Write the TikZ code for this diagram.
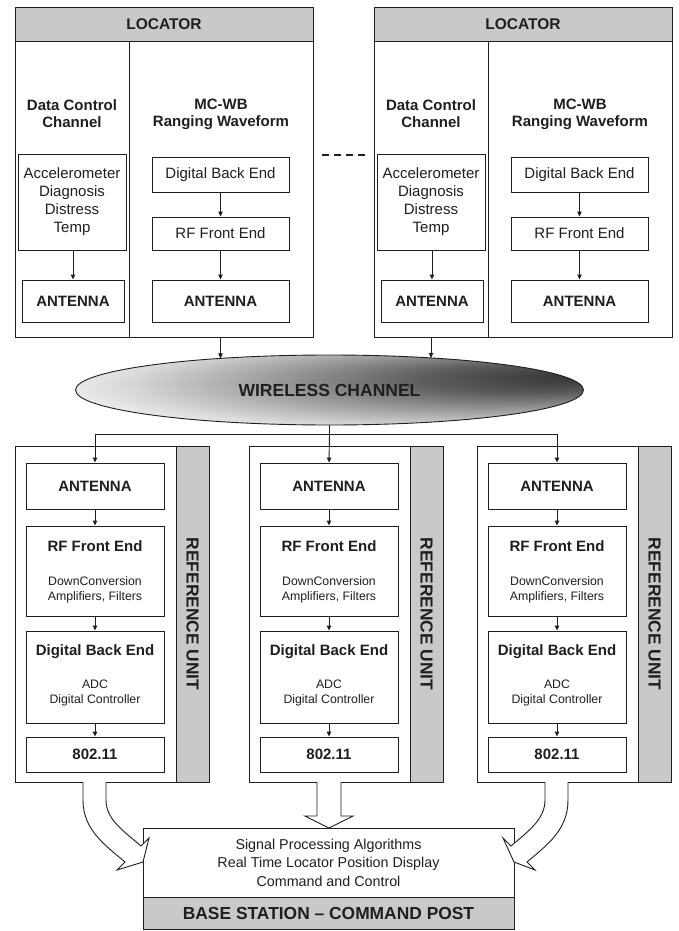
\documentclass[tikz,border=0pt]{standalone}
\usepackage{fontspec}
\setmainfont{Liberation Sans}
\usetikzlibrary{arrows.meta,shapes.geometric}
\pgfdeclareradialshading{wshade}{\pgfpoint{25bp}{10bp}}{color(0bp)=(black!80); color(10bp)=(black!65); color(20bp)=(black!40); color(30bp)=(black!15); color(38bp)=(white); color(50bp)=(white)}
\definecolor{ln}{gray}{0.12}
\definecolor{gf}{gray}{0.79}
\begin{document}
\begin{tikzpicture}[x=1pt,y=-1pt,
  every node/.style={text=ln, inner sep=0pt, align=center},
  box/.style={draw=ln, line width=0.9pt, fill=white},
  gbox/.style={draw=ln, line width=0.9pt, fill=gf},
  arr/.style={draw=ln, line width=0.9pt, -{Triangle[length=5pt,width=4.5pt]}},
  plainline/.style={draw=ln, line width=0.9pt},
  fb/.style={font=\fontsize{15}{17.5}\selectfont\bfseries},
  fr/.style={font=\fontsize{15}{18}\selectfont},
  fs/.style={font=\fontsize{12.3}{15}\selectfont},
  fm/.style={font=\fontsize{14.3}{18.5}\selectfont},
  fbig/.style={font=\fontsize{17.4}{20}\selectfont\bfseries},
  big/.style={draw=ln, line width=0.9pt, fill=white, line join=miter}
]
\useasboundingbox[fill=white] (0,0) rectangle (678,931);

% ---------- Locators ----------
\foreach \i/\d in {1/0,2/359}{
  \node[box, minimum width=298, minimum height=330] (L\i) at (164+\d,172) {};
  \node[gbox, font=\fontsize{15.5}{18}\selectfont\bfseries, minimum width=298, minimum height=34] (LH\i) at (164+\d,24) {LOCATOR};
  \draw[plainline] (129+\d,41) -- (129+\d,337);
  \node[fb] (dcc\i) at (72+\d,113.5) {Data Control\\Channel};
  \node[fb] (mc\i) at (221+\d,114.5) {MC-WB\\Ranging Waveform};
  \node[box, fr, minimum width=108, minimum height=96] (acc\i) at (72+\d,202) {Accelerometer\\Diagnosis\\Distress\\Temp};
  \node[box, fb, minimum width=102, minimum height=42] (anta\i) at (73+\d,301) {ANTENNA};
  \node[box, fr, minimum width=137, minimum height=35] (dbe\i) at (220.5+\d,174.5) {Digital Back End};
  \node[box, fr, minimum width=137, minimum height=33] (rf\i) at (220.5+\d,233.5) {RF Front End};
  \node[box, fb, minimum width=137, minimum height=42] (antb\i) at (220.5+\d,301) {ANTENNA};
  \draw[arr] (anta\i.north |- acc\i.south) -- (anta\i.north);
  \draw[arr] (dbe\i) -- (rf\i);
  \draw[arr] (rf\i) -- (antb\i);
}

% dashes between locators
\draw[draw=ln, line width=2.5pt, dash pattern=on 7pt off 5pt] (322,155) -- (365,155);

% ---------- Wireless channel ----------
\node[ellipse, draw=ln, line width=0.9pt, shade, shading=wshade, minimum width=508, minimum height=70,
      font=\fontsize{17.5}{20}\selectfont\bfseries] (W) at (329.5,390) {WIRELESS CHANNEL};
\coordinate (w1) at (220.5,358.4);
\coordinate (w2) at (431,357.9);
\draw[arr] (antb1.south |- L1.south) -- (w1);
\draw[arr] (acc2.south |- L2.south) -- (w2);

% ---------- Reference units ----------
\foreach \i/\x in {1/15,2/249,3/477}{
  \node[box, minimum width=194, minimum height=336] (U\i) at (\x+97,614) {};
  \node[gbox, minimum width=33, minimum height=336] (US\i) at (\x+177.5,614) {};
  \node[fbig, rotate=-90] (UT\i) at (US\i) {REFERENCE UNIT};
  \node[box, fb, minimum width=138, minimum height=46] (ra\i) at (\x+80,486) {ANTENNA};
  \node[box, minimum width=138, minimum height=90] (rr\i) at (\x+80,571) {};
  \node[fb] (rrt\i) at (\x+80,546) {RF Front End};
  \node[fs] (rrs\i) at (\x+80,589.5) {DownConversion\\Amplifiers, Filters};
  \node[box, minimum width=138, minimum height=92] (rd\i) at (\x+80,677) {};
  \node[fb] (rdt\i) at (\x+80,652) {Digital Back End};
  \node[fs] (rds\i) at (\x+80,692.5) {ADC\\Digital Controller};
  \node[box, fb, minimum width=138, minimum height=35] (rw\i) at (\x+80,754.5) {802.11};
  \draw[arr] (ra\i) -- (rr\i);
  \draw[arr] (rr\i) -- (rd\i);
  \draw[arr] (rd\i) -- (rw\i);
}

% bus from wireless channel
\coordinate (bus) at (329.5,434);
\draw[plainline] (W.south) -- (bus);
\draw[arr] (bus) -| (ra1.north);
\draw[arr] (bus) -| (ra3.north);
\draw[arr] (bus) -- (ra2.north);

% ---------- Base station ----------
\node[box, minimum width=371, minimum height=101.5] (BS) at (328.5,878.75) {};
\node[gbox, fbig, minimum width=371, minimum height=32.5] (BSg) at (328.5,913.25) {BASE STATION – COMMAND POST};
\node[fm] (BSt) at (328.5,862.5) {Signal Processing Algorithms\\Real Time Locator Position Display\\Command and Control};

% ---------- Hollow arrows ----------
\draw[big] (317,782) -- (317,816) -- (305,816) -- (329,828) -- (353,816) -- (341,816) -- (341,782);
\draw[big] (83,782) -- (83,800) .. controls (83,830) and (105,845) .. (125,862) -- (117,870) -- (143,862) -- (149,838) -- (141,846) .. controls (125,832) and (106,820) .. (106,800) -- (106,782);
\draw[big] (568,782) -- (568,800) .. controls (568,830) and (547,845) .. (527,862) -- (535,870) -- (514,862) -- (503,838) -- (511,846) .. controls (527,832) and (545,820) .. (545,800) -- (545,782);
\end{tikzpicture}
\end{document}
